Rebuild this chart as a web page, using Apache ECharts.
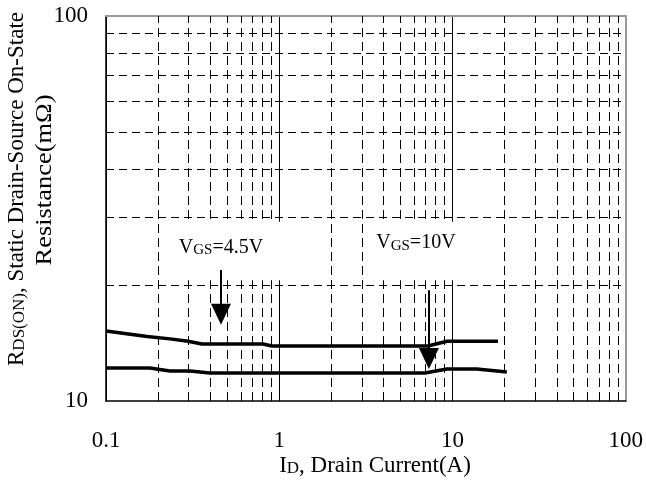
<!DOCTYPE html>
<html><head><meta charset="utf-8">
<script src="https://cdn.jsdelivr.net/npm/echarts@6/dist/echarts.min.js"></script>
<style>html,body{margin:0;padding:0;background:#fff}#c{width:646px;height:480px}</style>
</head><body><div id="c"></div>
<script>
// ---- data ----
const xTicks = [0.1, 1, 10, 100];
const yTicks = [10, 100];
const xMinorGrid = [0.2,0.3,0.4,0.5,0.6,0.7,0.8,0.9, 2,3,4,5,6,7,8,9, 20,30,40,50,60,70,80,90];
const yMinorGrid = [20,30,40,50,60,70,80,90];
const vgs45 = [[0.1,15.2],[0.125,15.0],[0.173,14.7],[0.234,14.5],[0.297,14.3],[0.358,14.06],[0.805,14.06],[0.907,13.9],[3.04,13.9],[7.21,13.9],[9.29,14.3],[10,14.3],[18.3,14.3]];
const vgs10 = [[0.1,12.18],[0.179,12.18],[0.234,11.96],[0.305,11.96],[0.398,11.82],[3.04,11.82],[6.93,11.82],[9.29,12.11],[10,12.11],[13.8,12.11],[20.6,11.9]];
const arrow45 = [[0.461,21.9],[0.461,16.8]];
const arrow10 = [[7.31,19.4],[7.31,12.9]];
const labelBoxes = [[[0.205,20.6],[1.95,29.2]], [[3.05,20.6],[19.5,29.2]]];
const labelTexts = [['V','GS','=4.5V'], ['V','GS','=10V']];
const labelCoords = [[0.461,25.0],[6.15,25.7]];
const xTitle = ['I','D',', Drain Current(A)'];
const yTitle1 = ['R','DS(ON)',', Static Drain-Source On-State'];
const yTitle2 = 'Resistance(mΩ)';

const FONT = 'Liberation Serif';
const richStyle = (big, small) => ({
  b: {fontFamily: FONT, fontSize: big, color: '#000', verticalAlign: 'bottom', lineHeight: big},
  s: {fontFamily: FONT, fontSize: small, color: '#000', verticalAlign: 'bottom', lineHeight: big}
});
const rt = (p) => '{b|' + p[0] + '}{s|' + p[1] + '}{b|' + p[2] + '}';

const chart = echarts.init(document.getElementById('c'), null, {renderer: 'canvas'});
const option = {
  animation: false,
  backgroundColor: '#fff',
  grid: {left: 106, right: 20, top: 16, bottom: 79},
  xAxis: [{
    type: 'log', logBase: 10, min: xTicks[0], max: xTicks[xTicks.length-1],
    axisLine: {lineStyle: {color: '#000', width: 1.5}},
    axisTick: {show: false},
    axisLabel: {fontFamily: FONT, fontSize: 23, color: '#000', margin: 28},
    splitLine: {show: true, lineStyle: {color: '#000', width: 1, type: 'solid'}}
  }, {
    type: 'log', logBase: 10, min: xTicks[0], max: xTicks[xTicks.length-1], position: 'top',
    axisLine: {lineStyle: {color: '#999', width: 2}}, axisTick: {show: false}, axisLabel: {show: false}, splitLine: {show: false}
  }],
  yAxis: [{
    type: 'log', logBase: 10, min: yTicks[0], max: yTicks[yTicks.length-1],
    axisLine: {show: true, lineStyle: {color: '#000', width: 1.5}},
    axisTick: {show: false},
    axisLabel: {fontFamily: FONT, fontSize: 23, color: '#000', margin: 18, padding: [8,0,0,0]},
    splitLine: {show: false}
  }, {
    type: 'log', logBase: 10, min: yTicks[0], max: yTicks[yTicks.length-1], position: 'right',
    axisLine: {show: true, lineStyle: {color: '#999', width: 2}}, axisTick: {show: false}, axisLabel: {show: false}, splitLine: {show: false}
  }],
  series: [
    {
      type: 'line', data: [vgs45[0]], symbol: 'none', lineStyle: {opacity: 0}, silent: true, z: 1,
      markLine: {
        z: 3, silent: true, symbol: 'none', label: {show: false}, animation: false,
        emphasis: {disabled: true},
        data: xMinorGrid.map(v => ({xAxis: v, lineStyle: {color: '#000', width: 1, type: [9,5]}}))
          .concat(yMinorGrid.map(v => ({yAxis: v, lineStyle: {color: '#000', width: 1, type: [8,5]}})))
      }
    },
    {
      type: 'line', data: [vgs45[0]], symbol: 'none', lineStyle: {opacity: 0}, silent: true, z: 2,
      markArea: {
        z: 6, silent: true, itemStyle: {color: '#fff', opacity: 1}, label: {show: false},
        emphasis: {disabled: true},
        data: labelBoxes.map(b => [{coord: b[0]}, {coord: b[1]}])
      }
    },
    {
      name: 'VGS=4.5V', type: 'line', data: vgs45, symbol: 'none', z: 10,
      lineStyle: {color: '#000', width: 3.5}
    },
    {
      name: 'VGS=10V', type: 'line', data: vgs10, symbol: 'none', z: 10,
      lineStyle: {color: '#000', width: 3.5}
    },
    {
      type: 'line', data: [vgs45[0]], symbol: 'none', lineStyle: {opacity: 0}, silent: true, z: 11,
      markLine: {
        z: 12, silent: true, symbol: ['none', 'triangle'], symbolSize: [20, 21], label: {show: false},
        emphasis: {disabled: true},
        lineStyle: {color: '#000', width: 2, type: 'solid'},
        itemStyle: {color: '#000'},
        data: [[{coord: arrow45[0]}, {coord: arrow45[1]}], [{coord: arrow10[0]}, {coord: arrow10[1]}]]
      },
      markPoint: {
        z: 12, silent: true, symbol: 'circle', symbolSize: 1, itemStyle: {color: 'rgba(0,0,0,0)'},
        label: {show: true, position: 'inside', rich: richStyle(20, 15)},
        data: labelTexts.map((t, i) => ({coord: labelCoords[i], label: {formatter: rt(t)}}))
      }
    }
  ],
  graphic: [
    {type: 'text', x: 17, y: 189, rotation: Math.PI/2, z: 20, silent: true,
     style: {text: rt(yTitle1), rich: richStyle(23, 17), align: 'center', verticalAlign: 'middle'}},
    {type: 'text', x: 45, y: 180, rotation: Math.PI/2, scaleX: 1.15, z: 20, silent: true,
     style: {text: yTitle2, font: '23px "Liberation Serif"', fill: '#000', align: 'center', verticalAlign: 'middle'}},
    {type: 'text', x: 375, y: 466, z: 20, silent: true,
     style: {text: rt(xTitle), rich: richStyle(23, 17), align: 'center', verticalAlign: 'middle'}}
  ]
};
chart.setOption(option);
</script>
</body></html>
